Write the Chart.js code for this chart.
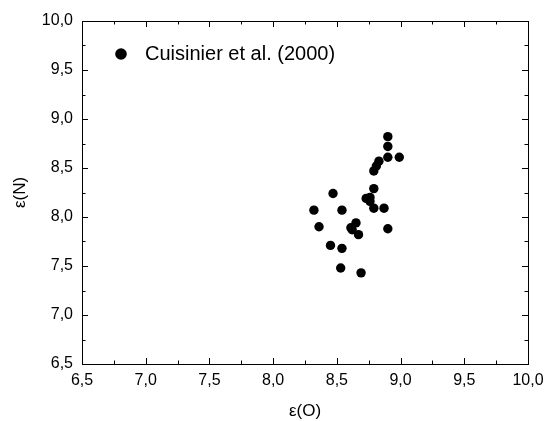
<!DOCTYPE html>
<html>
<head>
<meta charset="utf-8">
<script src="https://cdn.jsdelivr.net/npm/chart.js@4"></script>
<style>
  body { margin: 0; background: #fff; }
  canvas { display: block; }
</style>
</head>
<body>
<canvas id="chart-eps" width="545" height="421"></canvas>
<script>
// datos
const seriesLabel = 'Cuisinier et al. (2000)';
const epsO = [8.90, 8.90, 8.90, 8.99, 8.83, 8.81, 8.79, 8.47, 8.79, 8.73, 8.76, 8.76,
              8.32, 8.54, 8.79, 8.87, 8.36, 8.65, 8.61, 8.62, 8.67, 8.90, 8.45, 8.54, 8.53, 8.69];
const epsN = [8.82, 8.72, 8.61, 8.61, 8.57, 8.52, 8.47, 8.24, 8.29, 8.19, 8.20, 8.16,
              8.07, 8.07, 8.09, 8.09, 7.90, 7.94, 7.89, 7.87, 7.82, 7.88, 7.71, 7.68, 7.48, 7.43];
const xTicks = [6.5, 7.0, 7.5, 8.0, 8.5, 9.0, 9.5, 10.0];
const yTicks = [6.5, 7.0, 7.5, 8.0, 8.5, 9.0, 9.5, 10.0];

const FONT = 'Arial, "Liberation Sans", sans-serif';
const fmt = v => Number(v).toFixed(1).replace('.', ',');

// marcas hacia adentro en los cuatro lados + marco + leyenda
const framePlugin = {
    id: 'frame',
    afterDraw(chart) {
        const ctx = chart.ctx;
        const a = chart.chartArea;
        const sx = chart.scales.x, sy = chart.scales.y;
        ctx.save();
        ctx.strokeStyle = '#000';
        ctx.lineWidth = 1;
        ctx.strokeRect(Math.round(a.left) + 0.5, Math.round(a.top) + 0.5,
                       Math.round(a.right - a.left), Math.round(a.bottom - a.top));
        ctx.beginPath();
        for (let v = sx.min; v <= sx.max + 1e-9; v += 0.25) {
            const px = Math.round(sx.getPixelForValue(v)) + 0.5;
            const len = Math.abs(v * 2 - Math.round(v * 2)) < 1e-6 ? 6 : 3.5;
            ctx.moveTo(px, a.bottom); ctx.lineTo(px, a.bottom - len);
            ctx.moveTo(px, a.top); ctx.lineTo(px, a.top + len);
        }
        for (let v = sy.min; v <= sy.max + 1e-9; v += 0.25) {
            const py = Math.round(sy.getPixelForValue(v)) + 0.5;
            const len = Math.abs(v * 2 - Math.round(v * 2)) < 1e-6 ? 6 : 3.5;
            ctx.moveTo(a.left, py); ctx.lineTo(a.left + len, py);
            ctx.moveTo(a.right, py); ctx.lineTo(a.right - len, py);
        }
        ctx.stroke();

        // leyenda
        ctx.fillStyle = '#000';
        ctx.beginPath();
        ctx.arc(a.left + 39, a.top + 33, 5.8, 0, Math.PI * 2);
        ctx.fill();
        ctx.font = '20px ' + FONT;
        ctx.textBaseline = 'middle';
        ctx.fillText(chart.data.datasets[0].label, a.left + 63, a.top + 33);
        ctx.restore();
    }
};

new Chart(document.getElementById('chart-eps'), {
    type: 'scatter',
    data: {
        datasets: [{
            label: seriesLabel,
            data: epsO.map((x, i) => ({ x: x, y: epsN[i] })),
            backgroundColor: '#000',
            borderColor: '#000',
            pointRadius: 4.7,
            pointBorderWidth: 0
        }]
    },
    options: {
        responsive: false,
        animation: false,
        layout: { padding: { top: 21, right: 17, left: 0, bottom: 0 } },
        plugins: { legend: { display: false }, tooltip: { enabled: false } },
        scales: {
            x: {
                type: 'linear', min: 6.5, max: 10.0,
                afterBuildTicks: s => { s.ticks = xTicks.map(v => ({ value: v })); },
                afterFit: s => { s.height = 57; s.paddingLeft = 0; s.paddingRight = 0; },
                grid: { display: false, drawTicks: false },
                border: { display: false },
                ticks: { color: '#000', padding: 7, font: { family: FONT, size: 16 }, callback: fmt, maxRotation: 0 },
                title: { display: true, text: 'ε(O)', color: '#000', font: { family: FONT, size: 17 }, padding: { top: 0, bottom: -1 } }
            },
            y: {
                type: 'linear', min: 6.5, max: 10.0,
                afterBuildTicks: s => { s.ticks = yTicks.map(v => ({ value: v })); },
                afterFit: s => { s.width = 82; s.paddingTop = 0; s.paddingBottom = 0; },
                grid: { display: false, drawTicks: false },
                border: { display: false },
                ticks: { color: '#000', padding: 9, font: { family: FONT, size: 16 }, callback: fmt },
                title: { display: true, text: 'ε(N)', color: '#000', font: { family: FONT, size: 17 }, padding: { top: 10, bottom: 0 } }
            }
        }
    },
    plugins: [framePlugin]
});
</script>
</body>
</html>
